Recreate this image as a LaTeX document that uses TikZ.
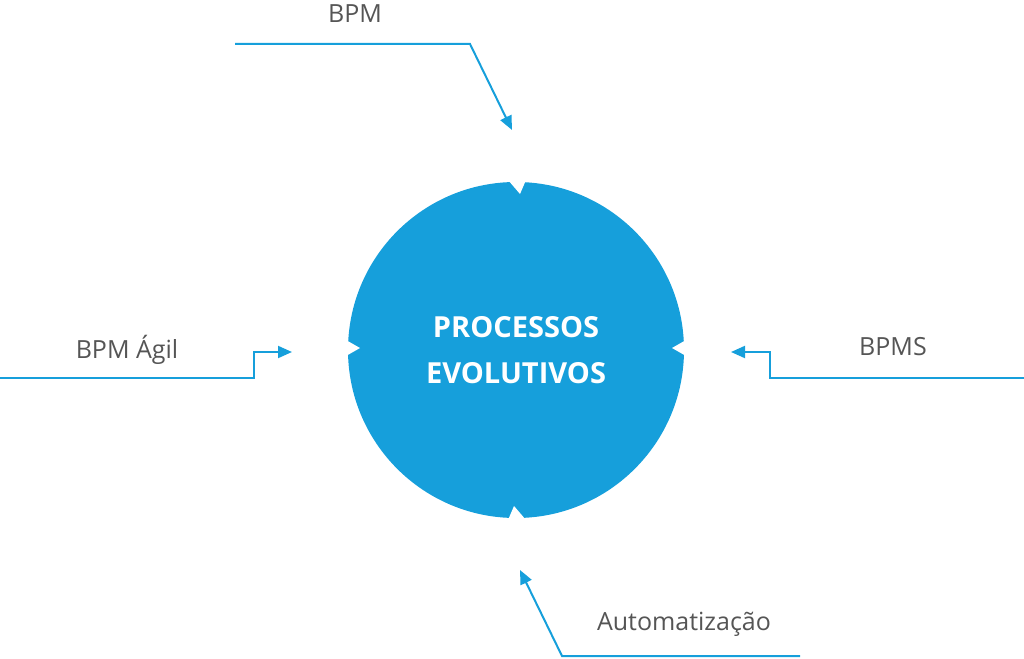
\documentclass[tikz,border=0pt]{standalone}
\usepackage{fontspec}
\setmainfont{Open Sans}
\usetikzlibrary{arrows.meta}
\definecolor{cblue}{HTML}{169FDB}
\definecolor{tgray}{HTML}{555555}
\begin{document}
\begin{tikzpicture}[x=1pt,y=-1pt,
  conn/.style={draw=cblue,line width=2pt,-{Triangle[length=14pt,width=12pt]}},
  lbl/.style={text=tgray,font=\fontsize{25}{28}\selectfont},
  notch/.style={fill=white}]
\useasboundingbox (0,0) rectangle (1024,658);
\node[circle,fill=cblue,minimum size=336pt,inner sep=0pt] (c) at (516,350) {};
\fill[notch] (508,180) -- (520,194) -- (526,180) -- cycle;
\fill[notch] (508,520) -- (514,506) -- (526,520) -- cycle;
\fill[notch] (346,340) -- (360,348) -- (346,356) -- cycle;
\fill[notch] (686,340) -- (672,348) -- (686,356) -- cycle;
\node[text=white,font=\bfseries\fontsize{29}{46}\selectfont,align=center] (t) at (c) {PROCESSOS\\EVOLUTIVOS};
\node[lbl] (a) at (355,14) {BPM};
\node[lbl] (b) at (127,350) {BPM Ágil};
\node[lbl] (d) at (893,347) {BPMS};
\node[lbl] (e) at (684,624) {Automatização};
\coordinate (a0) at (235,44); \coordinate (a1) at (470,44); \coordinate (a2) at (512,130);
\coordinate (b0) at (0,378); \coordinate (b1) at (254,378); \coordinate (b2) at (254,352); \coordinate (b3) at (292,352);
\coordinate (d0) at (1024,378); \coordinate (d1) at (770,378); \coordinate (d2) at (770,352); \coordinate (d3) at (731,352);
\coordinate (e0) at (800,656); \coordinate (e1) at (562,656); \coordinate (e2) at (520,570);
\draw[conn] (a0) -- (a1) -- (a2);
\draw[conn] (b0) -- (b1) -- (b2) -- (b3);
\draw[conn] (d0) -- (d1) -- (d2) -- (d3);
\draw[conn] (e0) -- (e1) -- (e2);
\end{tikzpicture}
\end{document}
